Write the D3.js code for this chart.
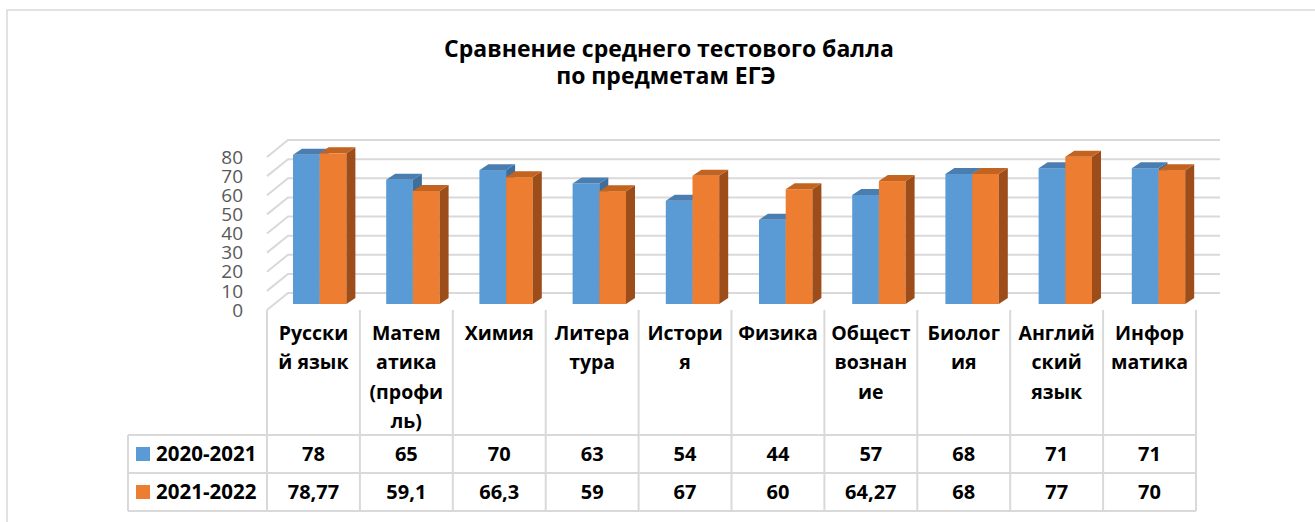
<!DOCTYPE html>
<html>
<head>
<meta charset="utf-8">
<script src="https://cdn.jsdelivr.net/npm/d3@7"></script>
<style>
  body { margin: 0; background: #fff; }
  svg { display: block; font-family: "Open Sans", sans-serif; }
</style>
</head>
<body>
<svg id="chart" width="1315" height="522"></svg>
<script>
// ---------- data ----------

const categories = [
  ["Русски", "й язык"],
  ["Матем", "атика", "(профи", "ль)"],
  ["Химия"],
  ["Литера", "тура"],
  ["Истори", "я"],
  ["Физика"],
  ["Общест", "вознан", "ие"],
  ["Биолог", "ия"],
  ["Англий", "ский", "язык"],
  ["Инфор", "матика"],
];
const seriesNames = ["2020-2021", "2021-2022"];
const values2021 = [78, 65, 70, 63, 54, 44, 57, 68, 71, 71];
const values2022 = [78.77, 59.1, 66.3, 59, 67, 60, 64.27, 68, 77, 70];
// table shows the numbers as typed in the sheet (comma decimals)
const labels2021 = ["78", "65", "70", "63", "54", "44", "57", "68", "71", "71"];
const labels2022 = ["78,77", "59,1", "66,3", "59", "67", "60", "64,27", "68", "77", "70"];
const yTicks = [0, 10, 20, 30, 40, 50, 60, 70, 80];

const colors = [
  { front: "#5b9bd5", top: "#4a7eb1", side: "#3e6e9c" },
  { front: "#ed7d31", top: "#c2631f", side: "#9d4d1a" },
];

// ---------- layout ----------

const svg = d3.select("#chart");
const keys = categories.map((d, i) => "c" + i);

// table columns
const x = d3.scaleBand().domain(keys).range([267, 1196]);
// bars sit a bit right of the columns (3d perspective)
const xBar = d3.scaleBand().domain(keys).range([293, 1225]);
const barW = 26.7;

// height of a value in px
const h = d3.scaleLinear().domain([0, 80]).range([0, 153]);
const frontBase = 310; // floor front edge
const backBase = 293; // back wall bottom
const barBase = 304;
const depth = { dx: 21, dy: 17 }; // side wall
const barDepth = { dx: 9, dy: 6 };

const gridColor = "#d9d9d9";

// outer frame (runs off the page on right / bottom)
svg.append("rect")
  .attr("x", 7).attr("y", 10)
  .attr("width", 1400).attr("height", 600)
  .attr("fill", "none").attr("stroke", gridColor).attr("stroke-width", 1.5);

// title
const title = svg.append("text")
  .attr("x", 668).attr("text-anchor", "middle")
  .attr("font-weight", "bold").attr("font-size", 23).attr("fill", "#000");
title.append("tspan").attr("x", 669).attr("y", 57).text("Сравнение среднего тестового балла");
title.append("tspan").attr("x", 666).attr("y", 84).text("по предметам ЕГЭ");

// ---------- gridlines: side wall + back wall ----------

const grid = svg.append("g")
  .attr("fill", "none").attr("stroke", gridColor).attr("stroke-width", 2);

yTicks.forEach((t) => {
  const yb = backBase - h(t);
  grid.append("path")
    .attr("d", `M${267},${yb + depth.dy}L${267 + depth.dx},${yb}L1220,${yb}`);
});

// y tick labels
svg.append("g")
  .selectAll("text")
  .data(yTicks)
  .join("text")
  .attr("x", 243)
  .attr("y", (d) => frontBase - h(d))
  .attr("dy", "0.35em")
  .attr("text-anchor", "end")
  .attr("font-size", 19)
  .attr("fill", "#595959")
  .text((d) => d);

// ---------- bars ----------

function drawBar(g, x0, v, c) {
  const top = barBase - h(v);
  const { dx, dy } = barDepth;
  g.append("rect")
    .attr("x", x0).attr("y", top)
    .attr("width", barW).attr("height", barBase - top)
    .attr("fill", c.front);
  g.append("path")
    .attr("d", `M${x0 + barW},${top}L${x0 + barW + dx},${top - dy}L${x0 + barW + dx},${barBase - dy}L${x0 + barW},${barBase}Z`)
    .attr("fill", c.side);
  g.append("path")
    .attr("d", `M${x0},${top}L${x0 + dx},${top - dy}L${x0 + barW + dx},${top - dy}L${x0 + barW},${top}Z`)
    .attr("fill", c.top);
}

const bars = svg.append("g");
keys.forEach((k, i) => {
  drawBar(bars, xBar(k), values2021[i], colors[0]);
  drawBar(bars, xBar(k) + barW, values2022[i], colors[1]);
});

// ---------- data table ----------

const rowTop = [435, 473];
const rowBottom = 511;
const headerTop = 310;
const legendLeft = 128;

const table = svg.append("g")
  .attr("stroke", gridColor).attr("stroke-width", 2).attr("fill", "none");

// column separators
keys.concat(["end"]).forEach((k, i) => {
  const xx = i < keys.length ? x(k) : x.range()[1];
  table.append("line")
    .attr("x1", xx).attr("x2", xx)
    .attr("y1", headerTop).attr("y2", rowBottom);
});
// legend column left edge
table.append("line")
  .attr("x1", legendLeft).attr("x2", legendLeft)
  .attr("y1", rowTop[0]).attr("y2", rowBottom);
// row lines
rowTop.concat([rowBottom]).forEach((yy) => {
  table.append("line")
    .attr("x1", legendLeft).attr("x2", x.range()[1])
    .attr("y1", yy).attr("y2", yy);
});

// category labels (already wrapped like in Excel)
const catG = svg.append("g")
  .attr("font-weight", "bold").attr("font-size", 19.5)
  .attr("text-anchor", "middle").attr("fill", "#000");

categories.forEach((lines, i) => {
  const cx = x(keys[i]) + x.bandwidth() / 2;
  lines.forEach((line, j) => {
    catG.append("text")
      .attr("x", cx)
      .attr("y", 333 + j * 29.5)
      .attr("dy", "0.35em")
      .text(line);
  });
});

// values
const rows = [labels2021, labels2022];
const valG = svg.append("g")
  .attr("font-weight", "bold").attr("font-size", 20)
  .attr("text-anchor", "middle").attr("fill", "#000");

rows.forEach((row, r) => {
  const cy = (rowTop[r] + (r === 0 ? rowTop[1] : rowBottom)) / 2;
  row.forEach((lab, i) => {
    valG.append("text")
      .attr("x", x(keys[i]) + x.bandwidth() / 2)
      .attr("y", cy)
      .attr("dy", "0.35em")
      .text(lab);
  });

  // legend key
  svg.append("rect")
    .attr("x", 136).attr("y", cy - 7)
    .attr("width", 14).attr("height", 14)
    .attr("fill", colors[r].front);
  svg.append("text")
    .attr("x", 156).attr("y", cy)
    .attr("dy", "0.35em")
    .attr("font-weight", "bold").attr("font-size", 20.5)
    .text(seriesNames[r]);
});
</script>
</body>
</html>
